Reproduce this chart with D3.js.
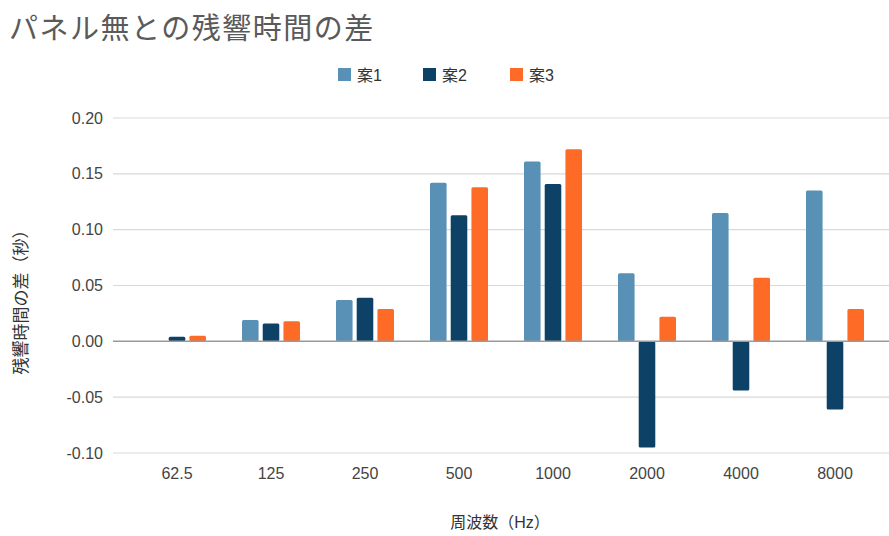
<!DOCTYPE html>
<html>
<head>
<meta charset="utf-8">
<script src="https://cdn.jsdelivr.net/npm/d3@7"></script>
<style>
  body { margin: 0; background: #fff; }
  text { font-family: "Liberation Sans", "Noto Sans CJK JP", sans-serif; }
</style>
</head>
<body>
<div id="chart"></div>
<script>
var categories = ["62.5", "125", "250", "500", "1000", "2000", "4000", "8000"];
var seriesNames = ["案1", "案2", "案3"];
var plan1 = [0.000, 0.019, 0.037, 0.142, 0.161, 0.061, 0.115, 0.135];
var plan2 = [0.004, 0.016, 0.039, 0.113, 0.141, -0.095, -0.044, -0.061];
var plan3 = [0.005, 0.018, 0.029, 0.138, 0.172, 0.022, 0.057, 0.029];
var yTicks = [-0.10, -0.05, 0.00, 0.05, 0.10, 0.15, 0.20];
var colors = ["#5891b5", "#0d4266", "#fd6b27"];

var W = 889, H = 536;
var PLOT = { left: 113, right: 889, top: 118, bottom: 453 };

var svg = d3.select("#chart").append("svg")
        .attr("width", W)
        .attr("height", H);

var values = [plan1, plan2, plan3];

var x0 = d3.scaleBand()
        .domain(categories)
        .range([130, 882])
        .paddingInner(0);

var x1 = d3.scaleBand()
        .domain(seriesNames)
        .range([0, 58])
        .paddingInner(0.2);

var y = d3.scaleLinear()
        .domain([-0.1, 0.2])
        .range([PLOT.bottom, PLOT.top]);

// title
svg.append("text")
        .attr("x", 9)
        .attr("y", 39)
        .attr("font-size", 29)
        .attr("letter-spacing", 1.5)
        .attr("fill", "#5a5a5a")
        .text("パネル無との残響時間の差");

// legend
var legendX = [338, 423, 510];
seriesNames.forEach(function(name, s) {
        var g = svg.append("g").attr("transform", "translate(" + legendX[s] + ",68)");
        g.append("rect")
                .attr("width", 13)
                .attr("height", 13)
                .attr("fill", colors[s]);
        g.append("text")
                .attr("x", 19)
                .attr("y", 13)
                .attr("font-size", 16)
                .attr("fill", "#333")
                .text(name);
});

// gridlines
var grid = svg.append("g").attr("class", "grid");
grid.selectAll("line")
        .data(yTicks.filter(function(t) { return t !== 0; }))
        .enter().append("line")
        .attr("x1", PLOT.left)
        .attr("x2", PLOT.right)
        .attr("y1", function(d) { return y(d); })
        .attr("y2", function(d) { return y(d); })
        .attr("stroke", "#d9d9d9")
        .attr("stroke-width", 1.2);

// y tick labels (plain hyphen for negatives, as in the original)
var fmt = d3.format(".2f");
var yAxis = d3.axisLeft(y)
        .tickValues(yTicks)
        .tickFormat(function(d) { return fmt(d).replace("\u2212", "-"); })
        .tickSize(0)
        .tickPadding(0);
var ya = svg.append("g")
        .attr("transform", "translate(103,0)")
        .call(yAxis);
ya.select(".domain").remove();
ya.selectAll("text")
        .attr("font-size", 16)
        .attr("fill", "#444")
        .attr("font-family", "Liberation Sans, sans-serif");

// bars
var groups = svg.append("g").attr("class", "bars")
        .selectAll("g")
        .data(categories)
        .enter().append("g")
        .attr("transform", function(d) {
                return "translate(" + (x0(d) + x0.bandwidth() / 2 - 29) + ",0)";
        });

groups.selectAll("rect")
        .data(function(d, i) {
                return seriesNames.map(function(n, s) { return { s: s, name: n, v: values[s][i] }; });
        })
        .enter().append("rect")
        .attr("x", function(d) { return x1(d.name); })
        .attr("y", function(d) { return y(Math.max(0, d.v)); })
        .attr("width", x1.bandwidth())
        .attr("height", function(d) { return Math.abs(y(d.v) - y(0)); })
        .attr("rx", 1.5)
        .attr("fill", function(d) { return colors[d.s]; });

// zero line
svg.append("line")
        .attr("x1", PLOT.left)
        .attr("x2", PLOT.right)
        .attr("y1", y(0))
        .attr("y2", y(0))
        .attr("stroke", "#999")
        .attr("stroke-width", 1.5);

// x labels
var xAxis = d3.axisBottom(x0).tickSize(0).tickPadding(0);
var xa = svg.append("g")
        .attr("transform", "translate(0,468)")
        .call(xAxis);
xa.select(".domain").remove();
xa.selectAll("text")
        .attr("font-size", 16)
        .attr("fill", "#444")
        .attr("dy", "0.7em")
        .attr("font-family", "Liberation Sans, sans-serif");

// axis titles
svg.append("text")
        .attr("x", 500)
        .attr("y", 528)
        .attr("text-anchor", "middle")
        .attr("font-size", 16)
        .attr("fill", "#333")
        .text("周波数（Hz）");

svg.append("text")
        .attr("transform", "translate(27,298) rotate(-90)")
        .attr("text-anchor", "middle")
        .attr("font-size", 17)
        .attr("fill", "#333")
        .text("残響時間の差（秒）");
</script>
</body>
</html>
